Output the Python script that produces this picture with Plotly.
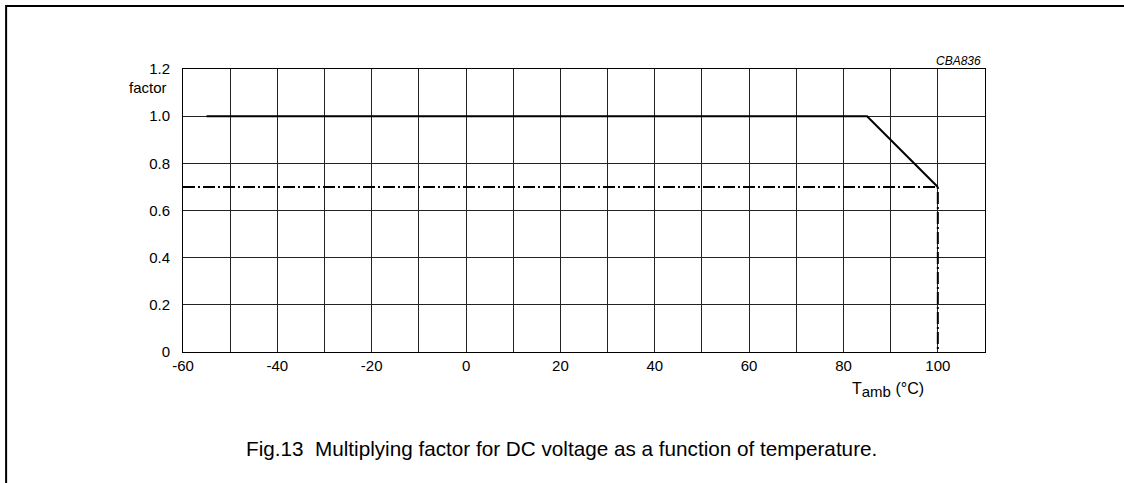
import plotly.graph_objects as go

# Data
rated_temp = [-55, 85, 100]          # °C
rated_factor = [1.0, 1.0, 0.7]
limit_temp = [-60, 100, 100]         # °C
limit_factor = [0.7, 0.7, 0.0]

x_tickvals = [-60, -40, -20, 0, 20, 40, 60, 80, 100]
x_ticktext = ["-60", "-40", "-20", "0", "20", "40", "60", "80", "100"]
y_tickvals = [0, 0.2, 0.4, 0.6, 0.8, 1.0, 1.2]
y_ticktext = ["0", "0.2", "0.4", "0.6", "0.8", "1.0", "1.2"]

W, H = 1124, 483
L, R, T, B = 183, 985.5, 69, 351.7

fig = go.Figure()
fig.add_trace(go.Scatter(x=limit_temp, y=limit_factor, mode="lines",
                         line=dict(color="black", width=2, dash="12px,3px,2px,3px"),
                         showlegend=False, hoverinfo="skip"))
fig.add_trace(go.Scatter(x=rated_temp, y=rated_factor, mode="lines",
                         line=dict(color="black", width=2),
                         showlegend=False, hoverinfo="skip"))

FONT = "Liberation Sans, Arial, sans-serif"
tickfont = dict(family=FONT, size=15, color="black")

def px_x(p):
    return (p - L) / (R - L)

def px_y(p):
    return (B - p) / (B - T)

fig.update_layout(
    width=W, height=H,
    margin=dict(l=L, r=W - R, t=T, b=H - B, pad=0),
    paper_bgcolor="white", plot_bgcolor="white",
    xaxis=dict(range=[-60, 110], tickvals=x_tickvals, ticktext=x_ticktext,
               showgrid=True, gridcolor="#222", gridwidth=1,
               minor=dict(dtick=10, tick0=0, showgrid=True, gridcolor="#222", gridwidth=1),
               zeroline=False, showline=True, linecolor="black", linewidth=1, mirror=True,
               ticks="", tickfont=tickfont, ticklabelstandoff=0),
    yaxis=dict(range=[0, 1.2], tickvals=y_tickvals, ticktext=y_ticktext,
               showgrid=True, gridcolor="#222", gridwidth=1,
               zeroline=False, showline=True, linecolor="black", linewidth=1, mirror=True,
               ticks="", tickfont=tickfont, ticklabelstandoff=9),
    shapes=[dict(type="rect", xref="paper", yref="paper",
                 x0=px_x(6), x1=px_x(1160), y0=px_y(520), y1=px_y(6),
                 line=dict(color="black", width=2), fillcolor="rgba(0,0,0,0)", layer="above")],
    annotations=[
        dict(text="factor", xref="paper", yref="paper", x=px_x(169), y=px_y(87),
             xanchor="right", yanchor="middle", showarrow=False, font=tickfont),
        dict(text="T<sub><span style='font-size:15px'>amb</span></sub> (°C)",
             xref="paper", yref="paper", x=px_x(888), y=px_y(390),
             xanchor="center", yanchor="middle", showarrow=False,
             font=dict(family=FONT, size=16, color="black")),
        dict(text="<i>CBA836</i>", xref="paper", yref="paper", x=px_x(983), y=px_y(61),
             xanchor="right", yanchor="middle", showarrow=False,
             font=dict(family=FONT, size=12, color="black")),
        dict(text="Fig.13  Multiplying factor for DC voltage as a function of temperature.",
             xref="paper", yref="paper", x=px_x(561.5), y=px_y(448),
             xanchor="center", yanchor="middle", showarrow=False,
             font=dict(family=FONT, size=20.7, color="black")),
    ],
)

fig.write_html("out.html",
               config={"displayModeBar": False, "staticPlot": True},
               post_script="document.body.style.margin='0';document.body.style.overflow='hidden';")
